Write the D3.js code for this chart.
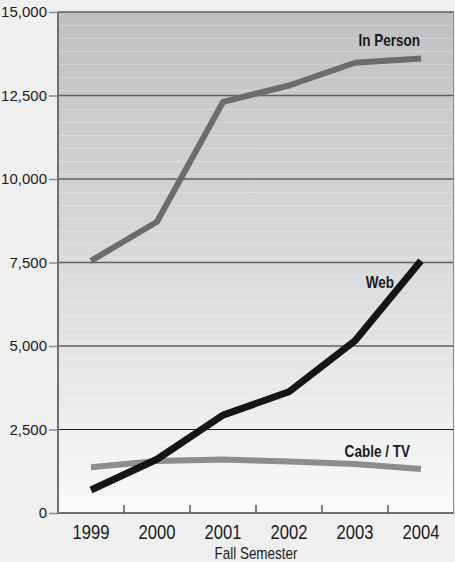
<!DOCTYPE html>
<html>
<head>
<meta charset="utf-8">
<script src="https://cdn.jsdelivr.net/npm/d3@7"></script>
<style>
  html, body { margin: 0; padding: 0; background: #efefef; }
  svg { display: block; }
</style>
</head>
<body>
<div id="chart"></div>
<script>
const years = ["1999", "2000", "2001", "2002", "2003", "2004"];
const inPerson = [7550, 8720, 12310, 12800, 13480, 13610];
const web = [690, 1610, 2930, 3630, 5160, 7550];
const cableTV = [1370, 1560, 1600, 1540, 1470, 1320];
const yTicks = [0, 2500, 5000, 7500, 10000, 12500, 15000];
const xTitle = "Fall Semester";

const W = 455, H = 562;
const m = { left: 58, right: 1, top: 12, bottom: 49 };
const iw = W - m.left - m.right, ih = H - m.top - m.bottom;
const FONT = "'Liberation Sans', Arial, sans-serif";

const svg = d3.select("#chart").append("svg").attr("width", W).attr("height", H);
const x = d3.scaleBand().domain(years).range([m.left, m.left + iw]);
const y = d3.scaleLinear().domain([0, 15000]).range([m.top + ih, m.top]);

const defs = svg.append("defs");
const grad = defs.append("linearGradient").attr("id", "bg").attr("x1", 0).attr("x2", 0).attr("y1", 0).attr("y2", 1);
grad.append("stop").attr("offset", "0%").attr("stop-color", "#bfc0c2");
grad.append("stop").attr("offset", "50%").attr("stop-color", "#d9dadb");
grad.append("stop").attr("offset", "80%").attr("stop-color", "#ebecec");
grad.append("stop").attr("offset", "100%").attr("stop-color", "#fafafa");

svg.append("rect").attr("x", m.left).attr("y", m.top).attr("width", iw).attr("height", ih).attr("fill", "url(#bg)");

// faint stripes
const stripes = [];
yTicks.slice(1).forEach(t => { for (let k = 1; k <= 6; k++) stripes.push(t - k * 390); });
svg.append("g").selectAll("line").data(stripes.filter(v => v > 0)).join("line")
  .attr("x1", m.left).attr("x2", m.left + iw)
  .attr("y1", d => Math.round(y(d)) + 0.5).attr("y2", d => Math.round(y(d)) + 0.5)
  .attr("stroke", "#ffffff").attr("stroke-opacity", 0.25).attr("stroke-width", 1);

// major gridlines
svg.append("g").selectAll("line").data(yTicks.filter(t => t > 0)).join("line")
  .attr("x1", m.left).attr("x2", m.left + iw)
  .attr("y1", d => y(d)).attr("y2", d => y(d))
  .attr("stroke", d => (d === 2500 || d === 15000) ? "#1e1e1e" : "#606062")
  .attr("stroke-width", d => (d === 2500 || d === 15000) ? 1.2 : 1.5);

// right border
svg.append("line").attr("x1", m.left + iw - 0.5).attr("x2", m.left + iw - 0.5)
  .attr("y1", m.top).attr("y2", m.top + ih).attr("stroke", "#8a8a8a").attr("stroke-width", 1);

// y axis
const yAxis = svg.append("g").attr("transform", `translate(${m.left},0)`)
  .call(d3.axisLeft(y).tickValues(yTicks).tickSize(9).tickPadding(2).tickFormat(d3.format(",")));
yAxis.select(".domain").remove();
yAxis.selectAll(".tick line").attr("stroke", "#8a8a8a").attr("stroke-width", 1.5);
yAxis.selectAll(".tick text").attr("fill", "#1a1a1a").style("font-family", FONT).style("font-size", "15px");
svg.append("line").attr("x1", m.left).attr("x2", m.left).attr("y1", m.top).attr("y2", m.top + ih + 1)
  .attr("stroke", "#707070").attr("stroke-width", 2);

// x axis
const xAxis = svg.append("g").attr("transform", `translate(0,${m.top + ih})`)
  .call(d3.axisBottom(x).tickSize(0).tickPadding(12));
xAxis.select(".domain").remove();
xAxis.selectAll(".tick text").attr("fill", "#1a1a1a").style("font-family", FONT).style("font-size", "20px")
  .attr("transform", "scale(0.83,1)");
svg.append("line").attr("x1", m.left - 1).attr("x2", m.left + iw).attr("y1", m.top + ih).attr("y2", m.top + ih)
  .attr("stroke", "#707070").attr("stroke-width", 2);
svg.append("g").selectAll("line").data(years.slice(1)).join("line")
  .attr("x1", d => x(d)).attr("x2", d => x(d))
  .attr("y1", m.top + ih).attr("y2", m.top + ih - 8)
  .attr("stroke", "#555").attr("stroke-width", 1.5);

svg.append("g").attr("transform", `translate(${m.left + iw / 2},${H - 3})`)
  .append("text").attr("text-anchor", "middle").attr("transform", "scale(0.84,1)")
  .attr("fill", "#1a1a1a").style("font-family", FONT).style("font-size", "16px")
  .text(xTitle);

// lines
const line = d3.line().x((d, i) => x(years[i]) + x.bandwidth() / 2).y(d => y(d));
const series = [
  { name: "Cable / TV", values: cableTV, color: "#8c8d8f", width: 6, dy: -12, right: 410 - 421 },
  { name: "In Person", values: inPerson, color: "#6b6c6e", width: 6, dy: -12, right: -1 },
  { name: "Web", values: web, color: "#151515", width: 7, dy: 27, right: 394 - 421 }
];
series.forEach(s => {
  svg.append("path").attr("d", line(s.values)).attr("fill", "none")
    .attr("stroke", s.color).attr("stroke-width", s.width).attr("stroke-linejoin", "round").attr("stroke-linecap", "butt");
});
series.forEach(s => {
  const lx = x(years[years.length - 1]) + x.bandwidth() / 2 + s.right;
  const ly = y(s.values[s.values.length - 1]) + s.dy;
  svg.append("g").attr("transform", `translate(${lx},${ly})`)
    .append("text").attr("text-anchor", "end").attr("transform", "scale(0.82,1)")
    .attr("fill", "#1a1a1a").style("font-family", FONT)
    .style("font-size", "16.5px").style("font-weight", "bold").text(s.name);
});
</script>
</body>
</html>
